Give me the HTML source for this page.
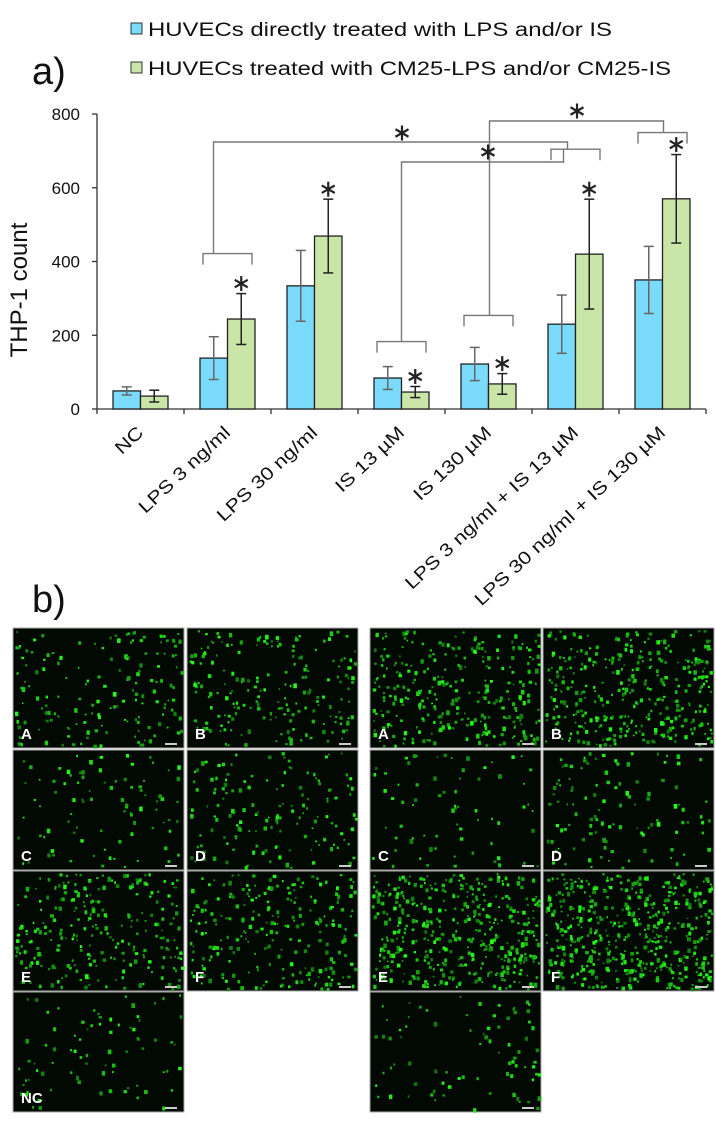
<!DOCTYPE html>
<html><head><meta charset="utf-8"><style>
body{margin:0;background:#fff;width:716px;height:1137px;overflow:hidden;font-family:"Liberation Sans",Arial,sans-serif}
svg{position:absolute;left:0;top:0}
</style></head><body>
<svg id="chart" width="716" height="1137"></svg>
<script>
const categories=["NC","LPS 3 ng/ml","LPS 30 ng/ml","IS 13 µM","IS 130 µM","LPS 3 ng/ml + IS 13 µM","LPS 30 ng/ml + IS 130 µM"];
const directValues=[49,138,334,84,122,230,350];
const directErrors=[11,58,96,31,45,79,91];
const cmValues=[35,244,469,46,68,420,570];
const cmErrors=[16,69,100,15,28,149,120];
const yTicks=[0,200,400,600,800];
const starFlags=[0,1,1,1,1,1,1];

const NS="http://www.w3.org/2000/svg";
const svg=document.getElementById('chart');
function mk(tag,attrs,parent){const e=document.createElementNS(NS,tag);for(const k in attrs)e.setAttribute(k,attrs[k]);(parent||svg).appendChild(e);return e;}
const X0=97,CW=87,Y0=409,PPU=295/800,BW=27.5;
const yS=v=>Y0-v*PPU;
const cx=i=>X0+CW*(i+0.5);

let t=mk('text',{x:32,y:84,'font-size':38,fill:'#111'});t.textContent='a)';

t=mk('text',{x:32,y:612,'font-size':38,fill:'#111'});t.textContent='b)';


const leg=[["#7adbfc","HUVECs directly treated with LPS and/or IS",36,464],["#c9e5a8","HUVECs treated with CM25-LPS and/or CM25-IS",75,523]];
leg.forEach((l,i)=>{
 const g=mk('g',{});
 
 
 mk('rect',{x:131,y:l[2]-13,width:11,height:11,fill:l[0],stroke:'#333','stroke-width':1},g);
 const tx=mk('text',{x:148,y:l[2],'font-size':19,fill:'#111',textLength:l[3],lengthAdjust:'spacingAndGlyphs'},g);tx.textContent=l[1];
});

const ya=mk('g',{});
mk('line',{x1:X0,y1:yS(800),x2:X0,y2:Y0,stroke:'#333','stroke-width':1.3},ya);
yTicks.forEach(v=>{
 mk('line',{x1:X0-5,y1:yS(v),x2:X0,y2:yS(v),stroke:'#333','stroke-width':1.3},ya);
 const tt=mk('text',{x:X0-17,y:yS(v)+6,'font-size':17,'text-anchor':'end',fill:'#111'},ya);tt.textContent=v;
});
t=mk('text',{x:0,y:0,'font-size':24,'text-anchor':'middle',fill:'#111',transform:'translate(27,290) rotate(-90)'});t.textContent='THP-1 count';


const xa=mk('g',{});
mk('line',{x1:X0,y1:Y0,x2:X0+CW*categories.length,y2:Y0,stroke:'#333','stroke-width':1.3},xa);
for(let i=0;i<=categories.length;i++)mk('line',{x1:X0+CW*i,y1:Y0,x2:X0+CW*i,y2:Y0+5,stroke:'#333','stroke-width':1.3},xa);
categories.forEach((c,i)=>{
 const tt=mk('text',{x:0,y:0,'font-size':18,'text-anchor':'end',fill:'#111',transform:`translate(${cx(i)+4},${434}) rotate(-43)`},xa);tt.textContent=c;
 const L=tt.getComputedTextLength();
 tt.setAttribute('textLength',(L*1.2).toFixed(1));
 tt.setAttribute('lengthAdjust','spacingAndGlyphs');
});

function star(x,y,name){
 const g=mk('g',{stroke:'#222','stroke-width':2.2,'stroke-linecap':'butt'});
 
 for(let k=0;k<3;k++){const a=Math.PI/2+k*Math.PI/3,r=7.5;mk('line',{x1:x+r*Math.cos(a),y1:y+r*Math.sin(a),x2:x-r*Math.cos(a),y2:y-r*Math.sin(a)},g);}
}
categories.forEach((c,i)=>{
 const g=mk('g',{});
 const bx=cx(i)-BW;
 let b=mk('rect',{x:bx,y:yS(directValues[i]),width:BW,height:directValues[i]*PPU,fill:'#7adbfc',stroke:'#222','stroke-width':1.3},g);
 
 b=mk('rect',{x:cx(i),y:yS(cmValues[i]),width:BW,height:cmValues[i]*PPU,fill:'#c9e5a8',stroke:'#222','stroke-width':1.3},g);
 
 [[cx(i)-BW/2,directValues[i],directErrors[i],'#666'],[cx(i)+BW/2,cmValues[i],cmErrors[i],'#222']].forEach(e=>{
  const eg=mk('g',{stroke:e[3],'stroke-width':1.5},g);
  
  const t1=yS(e[1]+e[2]),t2=yS(e[1]-e[2]);
  mk('line',{x1:e[0],y1:t1,x2:e[0],y2:t2},eg);
  mk('line',{x1:e[0]-5,y1:t1,x2:e[0]+5,y2:t1},eg);
  mk('line',{x1:e[0]-5,y1:t2,x2:e[0]+5,y2:t2},eg);
 });
 if(starFlags[i])star(cx(i)+BW/2,yS(cmValues[i]+cmErrors[i])-10,'significance-star');
});

function bracket(i,gap){const top=yS(Math.max(directValues[i]+directErrors[i],cmValues[i]+cmErrors[i]))-gap;
 const g=mk('polyline',{points:`${cx(i)-BW+3},${top+11} ${cx(i)-BW+3},${top} ${cx(i)+BW-3},${top} ${cx(i)+BW-3},${top+11}`,fill:'none',stroke:'#777','stroke-width':1.4});
 return top;}
const b1=bracket(1,40),b3=bracket(3,25),b4=bracket(4,32),b5=bracket(5,50),b6=bracket(6,22);
function link(x1,yA,yTop,x2,yB,name){const p=mk('polyline',{points:`${x1},${yA} ${x1},${yTop} ${x2},${yTop} ${x2},${yB}`,fill:'none',stroke:'#777','stroke-width':1.4});}
link(cx(1)-14,b1,142,cx(5)-8,b5,'link-lps3-combo');
link(cx(3),b3,162,cx(5)-12,b5,'link-is13-combo');
link(cx(4)+1,b4,121,cx(6)+1,b6,'link-is130-combo');
star(402,133,'significance-star');star(488,152,'significance-star');star(577,111,'significance-star');

function rng(s){return()=>{s=(s*16807)%2147483647;return s/2147483647;}}
const panels=[[13,628,'A',160],[187,628,'B',200],[13,750,'C',90],[187,750,'D',150],[13,871,'E',260],[187,871,'F',240],[13,992,'NC',80],
[370,628,'A',300],[543,628,'B',360],[370,750,'C',70],[543,750,'D',110],[370,871,'E',420],[543,871,'F',520],[370,992,'',80]];
panels.forEach((p,k)=>{
 const g=mk('g',{});
 mk('rect',{x:p[0],y:p[1],width:171,height:120,fill:'#020802',stroke:'#aaa','stroke-width':1},g);
 const r=rng(k*977+13);
 for(let n=0;n<p[3];n++){const x=p[0]+2+r()*166,y=p[1]+2+r()*115,s=1.5+r()*2.2,br=120+Math.floor(r()*135);
  mk('rect',{x:x,y:y,width:s,height:s*(0.8+r()*0.6),fill:`rgb(${Math.floor(br*0.15)},${br},${Math.floor(br*0.1)})`},g);}
 mk('rect',{x:p[0]+152,y:p[1]+115,width:12,height:2,fill:'#ccc'},g);
 if(p[2]){const tt=mk('text',{x:p[0]+8,y:p[1]+111,'font-size':15,'font-weight':'bold',fill:'#fff'},g);tt.textContent=p[2];}
});
</script>
</body></html>
